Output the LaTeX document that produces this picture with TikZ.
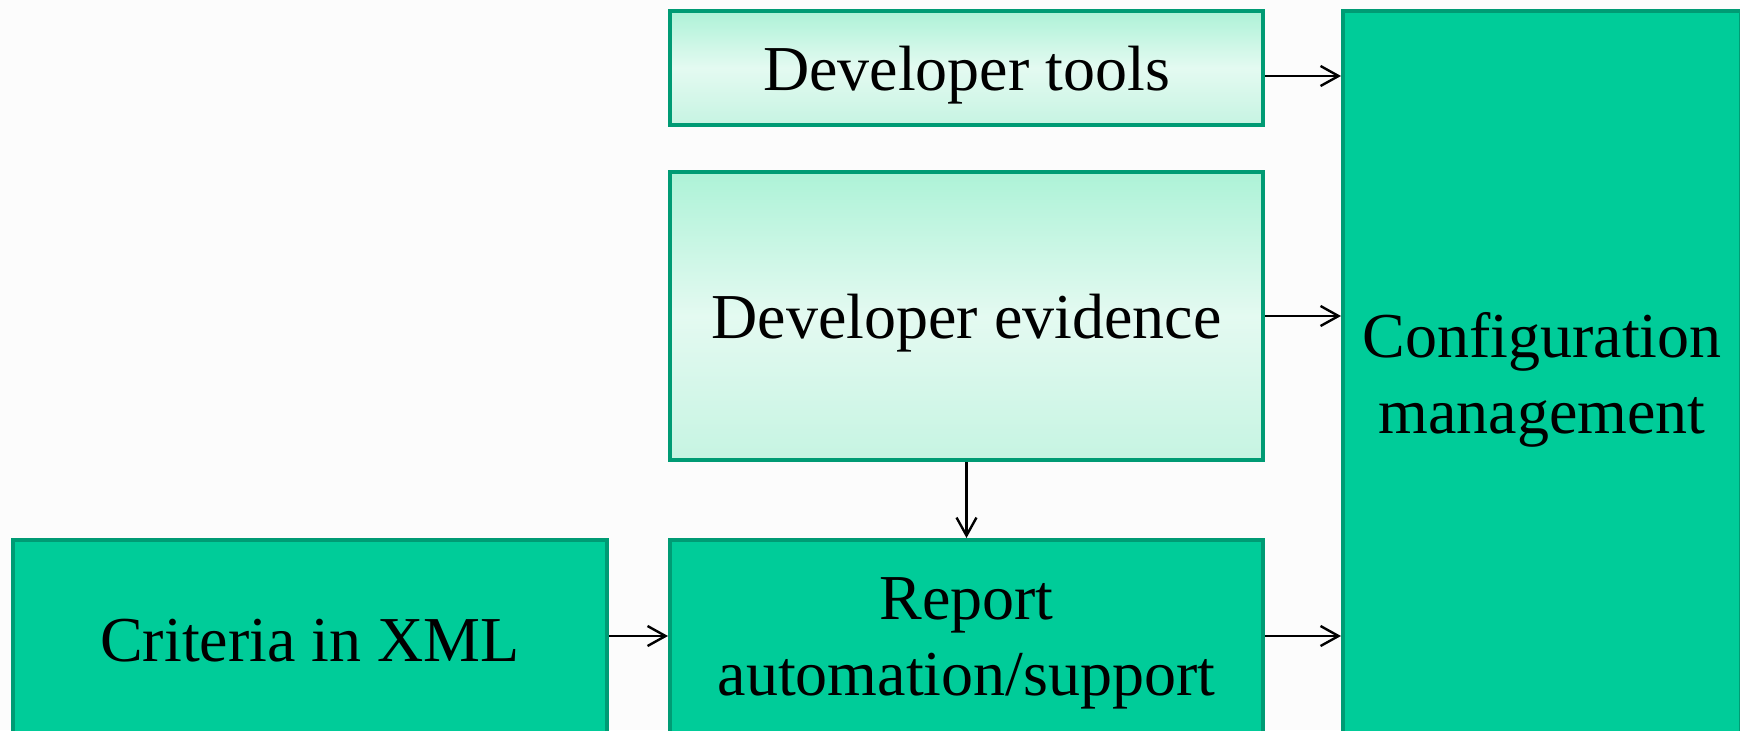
\documentclass[tikz,border=0pt]{standalone}
\usepackage{fontspec}
\setmainfont{Liberation Serif}
\usetikzlibrary{arrows.meta}
\definecolor{boxline}{HTML}{009B74}
\definecolor{boxfill}{HTML}{00CC99}
\definecolor{mintTop}{HTML}{ADF2D7}
\definecolor{mintMid}{HTML}{E4FAF1}
\definecolor{mintBot}{HTML}{C6F4E2}
\tikzset{
  box/.style={draw=boxline, line width=2pt, fill=boxfill, inner sep=0pt,
    align=center, font=\fontsize{32}{38}\selectfont},
  lightbox/.style={box, top color=mintTop, bottom color=mintBot, middle color=mintMid,
    text depth=0pt},
  link/.style={-{Straight Barb[length=9pt,width=10pt]}, line width=1.2pt}
}
\begin{document}
\begin{tikzpicture}[x=0.5pt,y=-0.5pt]
      \useasboundingbox (0,0) rectangle (1740,730);
      \clip (0,0) rectangle (1740,730);
      \fill[black!1] (0,0) rectangle (1740,730);
      \path
        (966.5,68) node[lightbox, minimum width=296.5pt, minimum height=57pt] (tools) {Developer tools}
        (966.5,316) node[lightbox, minimum width=296.5pt, minimum height=144pt] (evidence) {Developer evidence}
        (966.5,641) node[box, minimum width=296.5pt, minimum height=101pt, text depth=4pt] (report) {Report\\automation/support}
        (310,641) node[box, minimum width=297pt, minimum height=101pt] (criteria) {Criteria in XML}
        (1542,377) node[box, minimum width=199pt, minimum height=366pt, text depth=4pt] (config) {Configuration\\management};
      \begin{scope}[link]
        \draw ([yshift=-4pt]tools.east) to ([yshift=-4pt]config.west |- tools.east);
        \draw (evidence.east) to (config.west |- evidence.east);
        \draw (evidence) to (report);
        \draw ([yshift=2.5pt]report.east) to ([yshift=2.5pt]config.west |- report.east);
        \draw ([yshift=2.5pt]criteria.east) to ([yshift=2.5pt]report.west);
      \end{scope}
    \end{tikzpicture}
\end{document}
